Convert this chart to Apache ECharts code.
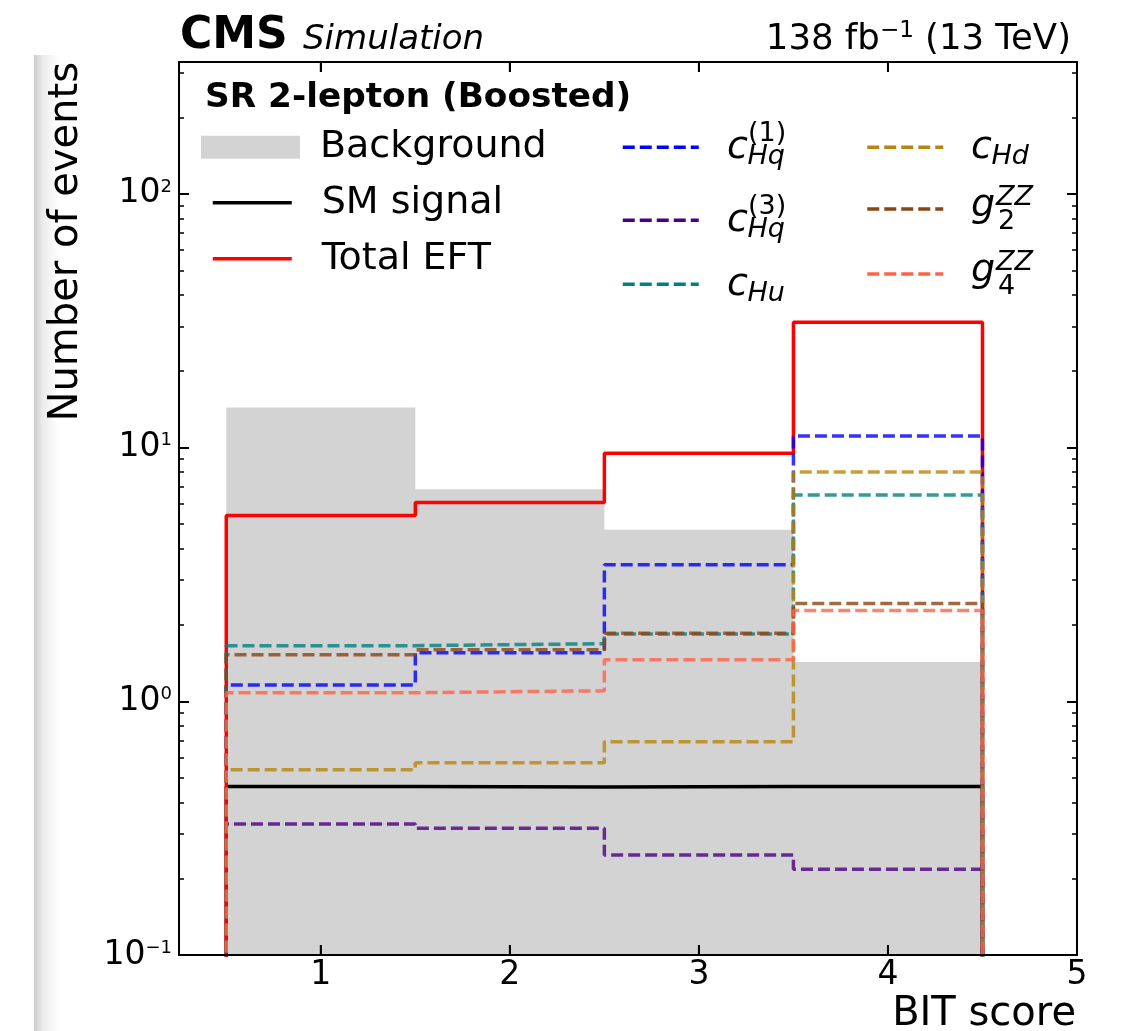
<!DOCTYPE html>
<html>
<head>
<meta charset="utf-8">
<script src="https://cdn.jsdelivr.net/npm/echarts@6/dist/echarts.min.js"></script>
<style>
html,body{margin:0;padding:0;background:#fff;}
#chart{width:1137px;height:1031px;}
</style>
</head>
<body>
<div id="chart"></div>
<script>
// ---------------- data ----------------
const binEdges = [0.5, 1.5, 2.5, 3.5, 4.5];
const xTickValues = [1, 2, 3, 4, 5];
const background = [14.4, 6.85, 4.74, 1.43];
const smSignal = [0.462, 0.459, 0.462, 0.462];
const totalEFT = [5.40, 6.07, 9.50, 31.2];
const cHq1 = [1.16, 1.555, 3.45, 11.1];
const cHq3 = [0.328, 0.316, 0.248, 0.218];
const cHu = [1.657, 1.687, 1.84, 6.51];
const cHd = [0.537, 0.573, 0.693, 8.02];
const g2ZZ = [1.527, 1.597, 1.854, 2.43];
const g4ZZ = [1.081, 1.10, 1.459, 2.28];
const yMajorTicks = [0.1, 1, 10, 100];
const yMinorTicks = [0.2,0.3,0.4,0.5,0.6,0.7,0.8,0.9, 2,3,4,5,6,7,8,9, 20,30,40,50,60,70,80,90, 200,300];
const xRange = [0.25, 5];
const yRange = [0.1, 331];

// ---------------- helpers ----------------
const FONT = 'DejaVu Sans';
const FLOOR = 1e-3; // histogram step edges drop to zero (clipped below the axis)
const LW = 3.5;

function stepPoints(vals, closed) {
  const pts = [];
  if (closed) pts.push([binEdges[0], FLOOR]);
  vals.forEach((v, i) => { pts.push([binEdges[i], v]); pts.push([binEdges[i + 1], v]); });
  if (closed) pts.push([binEdges[binEdges.length - 1], FLOOR]);
  return pts;
}
function stepSeries(name, vals, color, dashed) {
  return {
    name: name, type: 'line', data: stepPoints(vals, true),
    symbol: 'none', color: color, clip: true, z: dashed ? 4 : 3,
    lineStyle: { color: color, width: LW, type: dashed ? [12, 5] : 'solid', opacity: dashed ? 0.8 : 1 },
    emphasis: { disabled: true }, silent: true
  };
}
function txt(x, y, text, size, style, weight, align) {
  return {
    type: 'text', x: x, y: y, silent: true,
    style: {
      text: text, fill: '#000', font: (style || 'normal') + ' ' + (weight || 'normal') + ' ' + size + 'px "' + FONT + '"',
      fontFamily: FONT, fontSize: size, fontStyle: style || 'normal', fontWeight: weight || 'normal',
      textAlign: align || 'left', align: align || 'left', textVerticalAlign: 'middle', verticalAlign: 'middle'
    }
  };
}
// y position of text 'middle' for a given baseline
function mid(base, size) { return base - 0.346 * size; }
function mathLabel(x, lineY, main, sub, sup, isG) {
  const F = 38, S = 27;
  const els = [];
  const mainBase = lineY + (isG ? 10.5 : 13.5);
  els.push(txt(x, mid(mainBase, F), main, F, 'italic'));
  if (isG) {
    els.push(txt(x + 25, mid(lineY - 2, S), sup, S, 'italic'));
    els.push(txt(x + 27, mid(lineY + 22.7, S), sub, S, 'normal'));
  } else {
    els.push(txt(x + 20.5, mid(mainBase + 5.5, S), sub, S, 'italic'));
    if (sup) els.push(txt(x + 21, mid(lineY - 3.5, S), sup, S, 'normal'));
  }
  return els;
}
function lineLegend(name, left, lineY, width) {
  return {
    data: [name], left: left, top: lineY - 5, orient: 'vertical', padding: 0,
    itemWidth: width, itemHeight: 10, selectedMode: false,
    formatter: () => '', textStyle: { fontSize: 2 },
    itemStyle: { opacity: 0 }, lineStyle: { width: LW, opacity: 1 }
  };
}
function textLegend(name, left, centerY, w, h, pad, icon) {
  const o = {
    data: [icon ? { name: name, icon: icon } : name], left: left, top: centerY - 19, orient: 'vertical', padding: 0,
    itemWidth: w, itemHeight: h, selectedMode: false,
    textStyle: { fontFamily: FONT, fontSize: 38, color: '#000', padding: [0, 0, 0, pad] },
    lineStyle: { width: LW, opacity: 1 }
  };
  if (icon) o.itemStyle = { borderWidth: 0, opacity: 1 };
  else o.itemStyle = { opacity: 0 };
  return o;
}
const log10 = v => Math.log10(v);

// ---------------- option ----------------
const tickLabel = { fontFamily: FONT, fontSize: 33, color: '#000' };
function spine() { return { show: true, onZero: false, lineStyle: { color: '#000', width: 2 } }; }

const option = {
  animation: false,
  backgroundColor: '#fff',
  grid: { left: 179, right: 60, top: 62, bottom: 76, containLabel: false, outerBoundsMode: 'none' },
  xAxis: [
    {
      type: 'value', min: xRange[0], max: xRange[1], position: 'bottom', z: 10,
      axisLine: spine(),
      axisTick: { show: true, inside: true, length: 10, lineStyle: { color: '#000', width: 2 }, customValues: xTickValues },
      axisLabel: Object.assign({ show: true, margin: 4, customValues: xTickValues, formatter: v => String(v) }, tickLabel),
      splitLine: { show: false }
    },
    {
      type: 'value', min: xRange[0], max: xRange[1], position: 'top', z: 10,
      axisLine: spine(),
      axisTick: { show: true, inside: true, length: 10, lineStyle: { color: '#000', width: 2 }, customValues: xTickValues },
      axisLabel: { show: false },
      splitLine: { show: false }
    }
  ],
  yAxis: [
    {
      type: 'log', logBase: 10, min: yRange[0], max: yRange[1], position: 'left', z: 10,
      axisLine: spine(),
      axisTick: { show: true, inside: true, length: 10, lineStyle: { color: '#000', width: 2 } },
      axisLabel: {
        show: true, margin: 7,
        formatter: v => {
          const e = log10(v);
          if (Math.abs(e - Math.round(e)) > 1e-6) return '';
          const n = Math.round(e);
          return '{b|10}{e|' + (n < 0 ? '\u2212' + (-n) : n) + '}';
        },
        rich: {
          b: { fontFamily: FONT, fontSize: 33, color: '#000', lineHeight: 32 },
          e: { fontFamily: FONT, fontSize: 18, color: '#000', lineHeight: 18, verticalAlign: 'top' }
        }
      },
      splitLine: { show: false }, minorTick: { show: false }
    },
    {
      type: 'value', min: log10(yRange[0]), max: log10(yRange[1]), position: 'left', z: 10,
      axisLine: { show: false, onZero: false },
      axisTick: { show: true, inside: true, length: 5, lineStyle: { color: '#000', width: 1.5 }, customValues: yMinorTicks.map(log10) },
      axisLabel: { show: false }, splitLine: { show: false }
    },
    {
      type: 'log', logBase: 10, min: yRange[0], max: yRange[1], position: 'right', z: 10,
      axisLine: spine(),
      axisTick: { show: true, inside: true, length: 10, lineStyle: { color: '#000', width: 2 } },
      axisLabel: { show: false }, splitLine: { show: false }
    },
    {
      type: 'value', min: log10(yRange[0]), max: log10(yRange[1]), position: 'right', z: 10,
      axisLine: { show: false, onZero: false },
      axisTick: { show: true, inside: true, length: 5, lineStyle: { color: '#000', width: 1.5 }, customValues: yMinorTicks.map(log10) },
      axisLabel: { show: false }, splitLine: { show: false }
    }
  ],
  legend: [
    textLegend('Background', 201, 147.3, 99, 23, 15, 'rect'),
    textLegend('SM signal', 211, 202.7, 79, 10, 25),
    textLegend('Total EFT', 211, 258.7, 79, 10, 25),
    lineLegend('cHq1', 621, 147.3, 76),
    lineLegend('cHq3', 621, 220.3, 76),
    lineLegend('cHu', 621, 284.3, 76),
    lineLegend('cHd', 865.5, 147.3, 76),
    lineLegend('g2ZZ', 865.5, 209, 76),
    lineLegend('g4ZZ', 865.5, 274, 76)
  ],
  series: [
    {
      name: 'Background', type: 'line', data: stepPoints(background, false),
      symbol: 'none', color: '#d3d3d3', z: 1, clip: true,
      lineStyle: { width: 0, color: '#d3d3d3' },
      areaStyle: { color: '#d3d3d3', opacity: 1, origin: yRange[0] },
      emphasis: { disabled: true }, silent: true
    },
    stepSeries('SM signal', smSignal, '#000000', false),
    stepSeries('Total EFT', totalEFT, '#ff0000', false),
    stepSeries('cHq1', cHq1, '#0000ff', true),
    stepSeries('cHq3', cHq3, '#4b0082', true),
    stepSeries('cHu', cHu, '#008080', true),
    stepSeries('cHd', cHd, '#b8860b', true),
    stepSeries('g2ZZ', g2ZZ, '#8b4513', true),
    stepSeries('g4ZZ', g4ZZ, '#ff6347', true)
  ],
  graphic: { elements: [
    { type: 'rect', x: 34, y: 55, shape: { width: 24, height: 980 }, silent: true, z: -1,
      style: { fill: { type: 'linear', x: 0, y: 0, x2: 1, y2: 0, colorStops: [
        { offset: 0, color: '#cccccc' }, { offset: 0.35, color: '#ebebeb' }, { offset: 1, color: '#ffffff' } ] } } },
    txt(180, mid(51.5, 44), 'CMS', 44, 'normal', 'bold'),
    txt(303, mid(51.5, 34), 'Simulation', 34, 'italic'),
    { type: 'text', x: 1071, y: 39.5, silent: true,
      style: { text: '{a|138 fb}{s|\u22121}{a| (13 TeV)}', textAlign: 'right', align: 'right', textVerticalAlign: 'middle', verticalAlign: 'middle',
        rich: { a: { fontFamily: FONT, fontSize: 35.5, fill: '#000', color: '#000', lineHeight: 40 },
                 s: { fontFamily: FONT, fontSize: 23, fill: '#000', color: '#000', lineHeight: 18, verticalAlign: 'top' } } } },
    txt(205, mid(110, 34.3), 'SR 2-lepton (Boosted)', 34.3, 'normal', 'bold'),
    Object.assign(txt(67, 62, 'Number of events', 40, 'normal', 'normal', 'right'), { rotation: Math.PI / 2 }),
    txt(1076, mid(1028, 40), 'BIT score', 40, 'normal', 'normal', 'right'),
    ...mathLabel(727, 147.3, 'c', 'Hq', '(1)', false),
    ...mathLabel(727, 220.3, 'c', 'Hq', '(3)', false),
    ...mathLabel(727, 284.3, 'c', 'Hu', null, false),
    ...mathLabel(971, 147.3, 'c', 'Hd', null, false),
    ...mathLabel(971, 209, 'g', '2', 'ZZ', true),
    ...mathLabel(971, 274, 'g', '4', 'ZZ', true)
  ] }
};

const chart = echarts.init(document.getElementById('chart'), null, { renderer: 'canvas' });
chart.setOption(option);

// reinforce the x tick marks on both spines, positioned through the chart's own axis scales
try {
  xTickValues.forEach(v => {
    const b = chart.convertToPixel({ xAxisIndex: 0, yAxisIndex: 0 }, [v, yRange[0]]);
    const t = chart.convertToPixel({ xAxisIndex: 0, yAxisIndex: 0 }, [v, yRange[1]]);
    option.graphic.elements.push({ type: 'rect', silent: true, z: 20, shape: { x: b[0] - 1, y: b[1] - 10, width: 2, height: 10 }, style: { fill: '#000' } });
    option.graphic.elements.push({ type: 'rect', silent: true, z: 20, shape: { x: t[0] - 1, y: t[1], width: 2, height: 10 }, style: { fill: '#000' } });
  });
  chart.setOption(option, true);
} catch (e) { /* keep the first rendering */ }
</script>
</body>
</html>
